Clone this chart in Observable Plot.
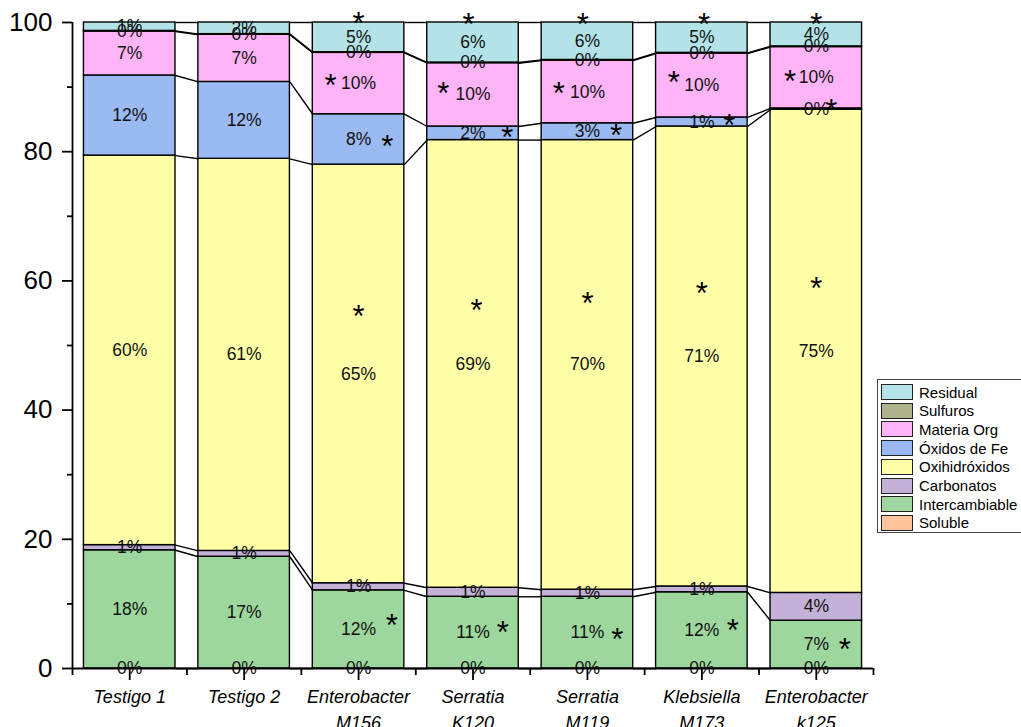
<!DOCTYPE html>
<html><head><meta charset="utf-8">
<script src="https://cdn.jsdelivr.net/npm/d3@7"></script>
<script src="https://cdn.jsdelivr.net/npm/@observablehq/plot@0.6"></script>
<style>
body{margin:0;background:#fff;font-family:"Liberation Sans",Arial,sans-serif;}
#wrap{position:relative;width:1021px;height:727px;overflow:hidden;}
#legend{position:absolute;left:877px;top:379px;width:160px;height:154px;border:1px solid #444;box-sizing:border-box;background:#fff;}
.row{position:absolute;left:3px;height:17px;display:flex;align-items:center;font-size:15px;color:#000;white-space:nowrap;}
.sw{width:32px;height:16px;border:1.4px solid #222;box-sizing:border-box;margin-right:6px;flex:none;}
</style></head><body><div id="wrap"></div>
<script>
// ---- data ----
const samples = ["Testigo 1","Testigo 2","Enterobacter\nM156","Serratia\nK120","Serratia\nM119","Klebsiella\nM173","Enterobacter\nk125"];
const fractions = ["Soluble","Intercambiable","Carbonatos","Oxihidróxidos","Óxidos de Fe","Materia Org","Sulfuros","Residual"];
const colors = ["#FFC49C","#9DD79D","#C3B1D8","#FFFFA8","#9BBAF1","#FFB4F8","#B0B48C","#B3E3E8"];
const soluble        = [0,0,0,0,0,0,0];
const intercambiable = [18.3,17.3,12.1,11.1,11.1,11.8,7.4];
const carbonatos     = [0.8,0.9,1.1,1.4,1.1,0.9,4.3];
const oxihidroxidos  = [60.3,60.7,64.8,69.3,69.6,71.2,74.8];
const oxidosFe       = [12.4,11.9,7.8,2.1,2.6,1.4,0.2];
const materiaOrg     = [6.8,7.3,9.5,9.8,9.7,9.9,9.5];
const sulfuros       = [0.1,0.1,0.1,0.1,0.1,0.1,0.1];
const residual       = [1.3,1.8,4.6,6.2,5.8,4.7,3.7];
// significance asterisks: sample index, value position, horizontal shift (in category units)
const starSample = [2,2,2,2,2, 3,3,3,3,3, 4,4,4,4,4, 5,5,5,5,5, 6,6,6,6,6];
const starValue  = [100.6,91.0,81.5,55.3,7.4, 100.5,89.7,82.9,56.2,6.3, 100.5,89.7,83.3,57.3,5.3, 100.5,91.5,84.8,58.8,6.7, 100.5,91.6,87.2,59.6,3.7];
const starShift  = [0,-0.245,0.25,0,0.29, -0.04,-0.26,0.30,0.03,0.26, -0.04,-0.25,0.25,0,0.26, 0.02,-0.245,0.24,0,0.27, 0,-0.23,0.13,0,0.25];

// ---- build tables ----
const series = [soluble,intercambiable,carbonatos,oxihidroxidos,oxidosFe,materiaOrg,sulfuros,residual];
const half = 0.4;
const rows = [];
const cum = samples.map(() => [0]);
samples.forEach((s, i) => {
  let acc = 0;
  series.forEach((arr, j) => {
    const v = arr[i];
    rows.push({i, fraction: fractions[j], value: v, y1: acc, y2: acc + v, x1: i - half, x2: i + half});
    acc += v;
    cum[i].push(acc);
  });
});
const links = [];
for (let i = 0; i < samples.length - 1; i++) {
  for (let k = 0; k < cum[i].length; k++) {
    links.push({x1: i + half, x2: i + 1 - half, y1: cum[i][k], y2: cum[i + 1][k]});
  }
}
const stars = starSample.map((s, k) => ({x: s + starShift[k], y: starValue[k]}));
const idx = samples.map((_, i) => i);
const bounds = d3.range(samples.length + 1).map(i => i - 0.5);

const chart = Plot.plot({
  width: 1021, height: 727,
  marginLeft: 72, marginRight: 148, marginTop: 22, marginBottom: 59,
  style: {fontFamily: "'Liberation Sans', Arial, sans-serif", background: "white", color: "black"},
  x: {type: "linear", domain: [-0.5, samples.length - 0.5]},
  y: {domain: [0, 100]},
  color: {domain: fractions, range: colors},
  marks: [
    Plot.rect(rows, {x1: "x1", x2: "x2", y1: "y1", y2: "y2", fill: "fraction", stroke: "black", strokeWidth: 1.4}),
    Plot.link(links, {x1: "x1", x2: "x2", y1: "y1", y2: "y2", stroke: "black", strokeWidth: 1.4}),
    Plot.text(rows, {x: "i", y: d => (d.y1 + d.y2) / 2, text: d => Math.round(d.value) + "%", fontSize: 17.5, fill: "#111"}),
    Plot.text(stars, {x: "x", y: "y", text: () => "*", fontSize: 31, dy: 5.5, fill: "black"}),
    Plot.ruleX([-0.5], {y1: 0, y2: 100, stroke: "black", strokeWidth: 1.8}),
    Plot.ruleY([0], {x1: -0.5, x2: samples.length - 0.5, stroke: "black", strokeWidth: 1.8}),
    Plot.axisY({ticks: [0,20,40,60,80,100], tickSize: 10, tickPadding: 10, fontSize: 26, label: null, strokeWidth: 1.8}),
    Plot.axisY({ticks: [10,30,50,70,90], tickSize: 5, tickFormat: () => "", label: null, strokeWidth: 1.8}),
    Plot.axisX({ticks: idx, tickSize: 12, tickPadding: 5, tickFormat: i => samples[i], fontSize: 18, fontStyle: "italic", lineHeight: 1.4, label: null, strokeWidth: 1.8}),
    Plot.axisX({ticks: bounds, tickSize: 7, tickFormat: () => "", label: null, strokeWidth: 1.8})
  ]
});
const wrap = document.getElementById("wrap");
wrap.appendChild(chart);

// legend
const legend = document.createElement("div");
legend.id = "legend";
const order = fractions.slice().reverse();
order.forEach((f, k) => {
  const r = document.createElement("div");
  r.className = "row";
  r.style.top = (3.5 + k * 18.7) + "px";
  const sw = document.createElement("div");
  sw.className = "sw";
  sw.style.background = colors[fractions.indexOf(f)];
  const t = document.createElement("span");
  t.textContent = f;
  r.appendChild(sw); r.appendChild(t);
  legend.appendChild(r);
});
wrap.appendChild(legend);
</script></body></html>
